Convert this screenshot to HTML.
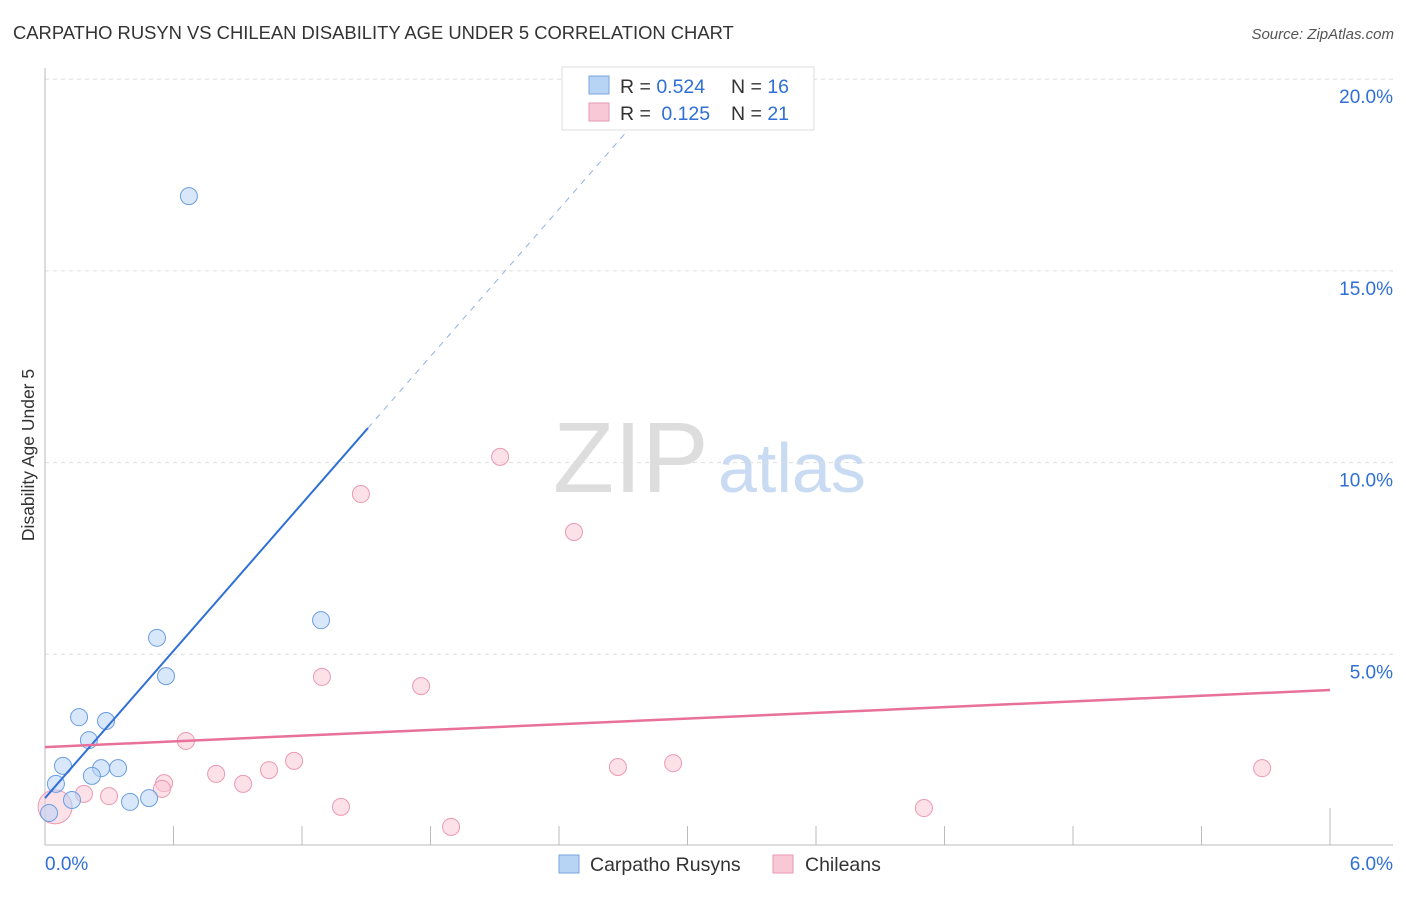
<!DOCTYPE html>
<html><head><meta charset="utf-8"><style>
body{margin:0;background:#fff;font-family:"Liberation Sans",sans-serif;}
svg text{font-family:"Liberation Sans",sans-serif;}
</style></head><body>
<svg id="chart" width="1406" height="892" viewBox="0 0 1406 892">
<text x="13" y="39" font-size="18.4" fill="#333">CARPATHO RUSYN VS CHILEAN DISABILITY AGE UNDER 5 CORRELATION CHART</text>
<text x="1394" y="39" font-size="15" fill="#555" font-style="italic" text-anchor="end">Source: ZipAtlas.com</text>
<text x="34" y="455" font-size="17.5" fill="#333" text-anchor="middle" transform="rotate(-90 34 455)">Disability Age Under 5</text>
<text x="553" y="492" font-size="100" fill="#ddd" font-family="Liberation Serif,serif">ZIP</text>
<text x="718" y="492" font-size="70" fill="#c9dbf3">atlas</text>
<g id="grid"></g><g id="marks"></g>
<g>
<rect x="562" y="67" width="252" height="63" fill="#fff" stroke="#ddd"/>
<rect x="589" y="76" width="20" height="18" fill="#b8d4f5" stroke="#7aa6e0"/>
<rect x="589" y="103" width="20" height="18" fill="#f9c8d6" stroke="#eb99b3"/>
<text x="620" y="93" font-size="19.5" fill="#333">R = <tspan fill="#2f6fd6">0.524</tspan></text>
<text x="731" y="93" font-size="19.5" fill="#333">N = <tspan fill="#2f6fd6">16</tspan></text>
<text x="620" y="120" font-size="19.5" fill="#333">R =  <tspan fill="#2f6fd6" dx="5">0.125</tspan></text>
<text x="731" y="120" font-size="19.5" fill="#333">N = <tspan fill="#2f6fd6">21</tspan></text>
</g>
<g>
<rect x="559" y="855" width="20" height="18" fill="#b8d4f5" stroke="#7aa6e0"/>
<text x="590" y="871" font-size="19.5" fill="#333">Carpatho Rusyns</text>
<rect x="773" y="855" width="20" height="18" fill="#f9c8d6" stroke="#eb99b3"/>
<text x="805" y="871" font-size="19.5" fill="#333">Chileans</text>
</g>
</svg>
<script>
const blueX=[0.672,0.523,0.565,1.289,0.159,0.285,0.205,0.084,0.262,0.341,0.219,0.051,0.126,0.397,0.486,0.019];
const blueY=[16.95,5.43,4.43,5.89,3.36,3.26,2.76,2.09,2.03,2.03,1.83,1.62,1.20,1.15,1.25,0.86];
const pinkX=[2.125,1.475,2.47,1.293,1.756,0.658,1.163,0.799,1.046,0.925,0.556,0.299,0.182,0.546,1.382,1.896,2.675,2.933,4.104,5.683,0.047];
const pinkY=[10.15,9.18,8.19,4.41,4.17,2.74,2.22,1.88,1.98,1.62,1.64,1.30,1.36,1.49,1.02,0.50,2.06,2.16,0.99,2.03,1.02];
const pinkR=[8.5,8.5,8.5,8.5,8.5,8.5,8.5,8.5,8.5,8.5,8.5,8.5,8.5,8.5,8.5,8.5,8.5,8.5,8.5,8.5,17];
const blueTrend=[1.25,6.4];
const pinkTrend=[2.58,0.248];
const yTicks=[5,10,15,20];
const xTickLabels=["0.0%","6.0%"];
const NS="http://www.w3.org/2000/svg";
const sx=v=>45+v/6*1285, sy=v=>846-v/5*191.7;
function mk(t,a,p){const e=document.createElementNS(NS,t);for(const k in a)e.setAttribute(k,a[k]);p.appendChild(e);return e;}
const grid=document.getElementById('grid'),marks=document.getElementById('marks');
yTicks.forEach(t=>{
 const l=mk('line',{x1:45,x2:1393,y1:sy(t),y2:sy(t),stroke:'#ddd','stroke-dasharray':'4,4'},grid);
 
 
 const tx=mk('text',{x:1393,y:sy(t)+24,'font-size':19,fill:'#2f6fd6','text-anchor':'end'},grid);
 tx.textContent=t.toFixed(1)+'%';
 
 
});
const ax=mk('line',{x1:45,x2:45,y1:68,y2:845,stroke:'#bbb'},grid);


const bx=mk('line',{x1:45,x2:1393,y1:845,y2:845,stroke:'#bbb'},grid);


for(let i=1;i<=10;i++){const x=sx(i*0.6);
 const tk=mk('line',{x1:x,x2:x,y1:i==10?808:826,y2:845,stroke:'#bbb'},grid);
 
 }
[[0,'start'],[6,'end']].forEach((p,i)=>{
 const t=mk('text',{x:i?1393:45,y:870,'font-size':19,fill:'#2f6fd6','text-anchor':p[1]},grid);
 t.textContent=xTickLabels[i];
 
 });
pinkX.forEach((x,i)=>{const c=mk('circle',{cx:sx(x),cy:sy(pinkY[i]),r:pinkR[i],fill:'rgba(249,200,214,0.55)',stroke:'#eb99b3','stroke-width':1},marks);
 
 });
blueX.forEach((x,i)=>{const c=mk('circle',{cx:sx(x),cy:sy(blueY[i]),r:8.5,fill:'rgba(184,212,245,0.55)',stroke:'#6b9ee0','stroke-width':1},marks);
 
 });
const bEnd=1.508, bDash=(20-blueTrend[0])/blueTrend[1];
const bl=mk('line',{x1:sx(0),y1:sy(blueTrend[0]),x2:sx(bEnd),y2:sy(blueTrend[0]+blueTrend[1]*bEnd),stroke:'#2f6fd6','stroke-width':2},marks);


const bd=mk('line',{x1:sx(bEnd),y1:sy(blueTrend[0]+blueTrend[1]*bEnd),x2:sx(bDash),y2:sy(20),stroke:'#8fb3e8','stroke-width':1,'stroke-dasharray':'6,6'},marks);


const pl=mk('line',{x1:sx(0),y1:sy(pinkTrend[0]),x2:sx(6),y2:sy(pinkTrend[0]+pinkTrend[1]*6),stroke:'#e8709a','stroke-width':2.5},marks);


</script>
</body></html>
